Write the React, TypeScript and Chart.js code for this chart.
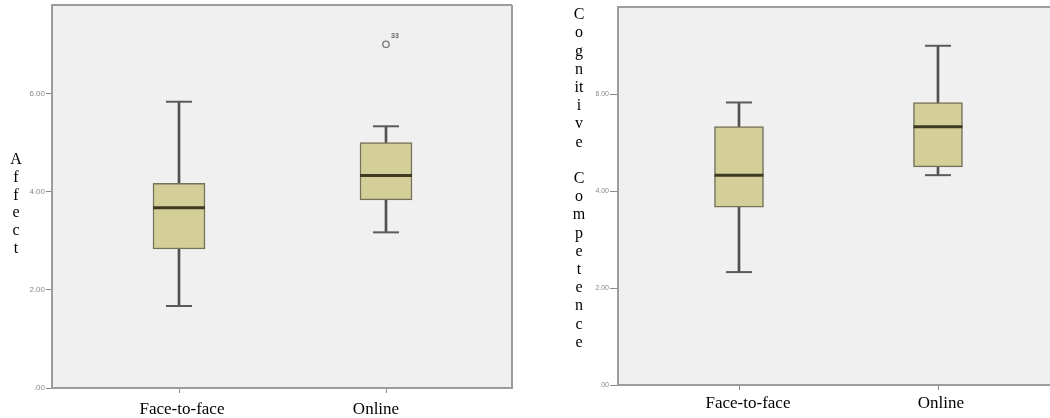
import React, { useEffect, useRef } from "react";
import { Chart, registerables } from "chart.js";

Chart.register(...registerables);

// ---------- data ----------
const categories = ["Face-to-face", "Online"];
const yTicks = [0, 2, 4, 6];

const affectMin = [1.67, 3.17];
const affectQ1 = [2.83, 3.83];
const affectMedian = [3.67, 4.33];
const affectQ3 = [4.17, 5.0];
const affectMax = [5.83, 5.33];
const affectOutlierValues = [null, 7.0];
const affectOutlierLabels = ["", "33"];
const affectTitle = ["A", "f", "f", "e", "c", "t"];

const cogMin = [2.33, 4.33];
const cogQ1 = [3.67, 4.5];
const cogMedian = [4.33, 5.33];
const cogQ3 = [5.33, 5.83];
const cogMax = [5.83, 7.0];
const cogOutlierValues = [null, null];
const cogOutlierLabels = ["", ""];
const cogTitle = ["C", "o", "g", "n", "it", "i", "v", "e", "", "C", "o", "m", "p", "e", "t", "e", "n", "c", "e"];

// ---------- helpers ----------
type PanelCfg = {
  min: number[];
  q1: number[];
  median: number[];
  q3: number[];
  max: number[];
  outliers: (number | null)[];
  outlierLabels: string[];
  title: string[];
  xMin: number;
  xMax: number;
  pxPerUnit: number;
  labelShiftPx: number[];
  boxWidth: number;
  padding: { left: number; right: number; top: number; bottom: number };
  yWidth: number;
  xHeight: number;
  yTickLen: number;
  yFontSize: number;
  xLabelPad: number;
  titleX: number;
  titleY0: number;
  titleStep: number;
  drawRight: boolean;
};

const framePlugin = {
  id: "frame",
  beforeDraw(chart: any) {
    const { ctx, chartArea: a } = chart;
    ctx.save();
    ctx.fillStyle = "#f0f0f0";
    ctx.fillRect(a.left, a.top, a.right - a.left, a.bottom - a.top);
    ctx.restore();
  },
  afterDraw(chart: any, _args: any, opts: any) {
    const { ctx, chartArea: a } = chart;
    ctx.save();
    ctx.strokeStyle = "#9c9c9c";
    ctx.lineWidth = 2;
    ctx.beginPath();
    ctx.moveTo(a.left - 1, a.top);
    ctx.lineTo(a.right, a.top);
    if (opts.drawRight) {
      ctx.moveTo(a.right, a.top);
      ctx.lineTo(a.right, a.bottom + 1);
    }
    ctx.stroke();

    // category tick marks on the x axis
    const xs = chart.scales.x;
    ctx.strokeStyle = "#8a8a8a";
    ctx.lineWidth = 1;
    ctx.beginPath();
    categories.forEach((_, i) => {
      const px = Math.round(xs.getPixelForValue(i + 1)) + 0.5;
      ctx.moveTo(px, a.bottom + 1);
      ctx.lineTo(px, a.bottom + 5);
    });
    ctx.stroke();

    // stacked vertical axis title
    ctx.fillStyle = "#000";
    ctx.font = "16px 'Liberation Serif', 'Times New Roman', serif";
    ctx.textAlign = "center";
    ctx.textBaseline = "middle";
    (opts.title as string[]).forEach((t, i) => {
      if (t) ctx.fillText(t, opts.titleX, opts.titleY0 + i * opts.titleStep);
    });

    // outlier case labels
    const ds = chart.data.datasets[opts.outlierIndex];
    const meta = chart.getDatasetMeta(opts.outlierIndex);
    ctx.fillStyle = "#666";
    ctx.font = "bold 7px 'Liberation Sans', Arial, sans-serif";
    ctx.textAlign = "left";
    ctx.textBaseline = "middle";
    meta.data.forEach((el: any, i: number) => {
      const raw = ds.data[i];
      const label = raw && raw.label;
      if (label && el && Number.isFinite(el.x) && Number.isFinite(el.y)) {
        ctx.fillText(label, el.x + 5, el.y - 8);
      }
    });
    ctx.restore();
  },
};

function buildConfig(p: PanelCfg): any {
  const xs = categories.map((_, i) => i + 1);
  const stems = xs.map((x, i) => ({ x, y: [p.min[i], p.max[i]] }));
  const boxes = xs.map((x, i) => ({ x, y: [p.q1[i], p.q3[i]] }));
  const caps: any[] = [];
  xs.forEach((x, i) => {
    caps.push({ x, y: p.min[i] });
    caps.push({ x, y: p.max[i] });
  });
  const medians = xs.map((x, i) => ({ x, y: p.median[i] }));
  const outliers: any[] = [];
  xs.forEach((x, i) => {
    const v = p.outliers[i];
    if (v !== null && v !== undefined) outliers.push({ x, y: v, label: p.outlierLabels[i] });
  });
  const labelPositions = xs.map((x, i) => x + p.labelShiftPx[i] / p.pxPerUnit);

  return {
    type: "bar",
    data: {
      datasets: [
        {
          type: "bar",
          data: stems,
          backgroundColor: "#505050",
          borderWidth: 0,
          barThickness: 2,
          grouped: false,
          order: 5,
        },
        {
          type: "bar",
          data: boxes,
          backgroundColor: "#d4cf99",
          borderColor: "#75705a",
          borderWidth: 1.5,
          borderSkipped: false,
          barThickness: p.boxWidth,
          grouped: false,
          order: 4,
        },
        {
          type: "scatter",
          data: caps,
          pointStyle: "line",
          radius: 13,
          borderWidth: 2,
          borderColor: "#5a5a5a",
          order: 2,
        },
        {
          type: "scatter",
          data: medians,
          pointStyle: "line",
          radius: p.boxWidth / 2,
          borderWidth: 3,
          borderColor: "#3e3a24",
          order: 1,
        },
        {
          type: "scatter",
          data: outliers,
          pointStyle: "circle",
          radius: 3.2,
          borderWidth: 1.3,
          borderColor: "#777",
          backgroundColor: "rgba(0,0,0,0)",
          order: 0,
        },
      ],
    },
    options: {
      responsive: false,
      maintainAspectRatio: false,
      animation: false,
      events: [],
      layout: { padding: p.padding, autoPadding: false },
      plugins: {
        legend: { display: false },
        tooltip: { enabled: false },
        frame: {
          drawRight: p.drawRight,
          title: p.title,
          titleX: p.titleX,
          titleY0: p.titleY0,
          titleStep: p.titleStep,
          outlierIndex: 4,
        },
      },
      scales: {
        x: {
          type: "linear",
          offset: false,
          min: p.xMin,
          max: p.xMax,
          afterBuildTicks: (s: any) => {
            s.ticks = labelPositions.map((v) => ({ value: v }));
          },
          afterFit: (s: any) => {
            s.height = p.xHeight;
            s.paddingLeft = 0;
            s.paddingRight = 0;
          },
          ticks: {
            callback: (_v: any, i: number) => categories[i] ?? "",
            font: { family: "'Liberation Serif', 'Times New Roman', serif", size: 17 },
            color: "#000",
            padding: p.xLabelPad,
            maxRotation: 0,
            autoSkip: false,
          },
          grid: { offset: false, drawOnChartArea: false, drawTicks: false },
          border: { display: true, color: "#9c9c9c", width: 2 },
        },
        y: {
          type: "linear",
          min: 0,
          max: 7.8,
          afterBuildTicks: (s: any) => {
            s.ticks = yTicks.map((v) => ({ value: v }));
          },
          afterFit: (s: any) => {
            s.width = p.yWidth;
            s.paddingTop = 0;
            s.paddingBottom = 0;
          },
          ticks: {
            callback: (v: any) => (Number(v) === 0 ? ".00" : Number(v).toFixed(2)),
            font: { family: "'Liberation Sans', Arial, sans-serif", size: p.yFontSize },
            color: "#888",
            padding: 1,
          },
          grid: { drawOnChartArea: false, drawTicks: true, tickLength: p.yTickLen, color: "#8a8a8a", lineWidth: 1 },
          border: { display: true, color: "#9c9c9c", width: 2 },
        },
      },
    },
    plugins: [framePlugin],
  };
}

const leftPanel: PanelCfg = {
  min: affectMin,
  q1: affectQ1,
  median: affectMedian,
  q3: affectQ3,
  max: affectMax,
  outliers: affectOutlierValues,
  outlierLabels: affectOutlierLabels,
  title: affectTitle,
  xMin: 0.3865,
  xMax: 2.6087,
  pxPerUnit: 207,
  labelShiftPx: [3, -10],
  boxWidth: 52,
  padding: { left: 26, right: 28, top: 5, bottom: 0 },
  yWidth: 26,
  xHeight: 30,
  yTickLen: 6,
  yFontSize: 8,
  xLabelPad: 11,
  titleX: 16,
  titleY0: 160,
  titleStep: 17.7,
  drawRight: true,
};

const rightPanel: PanelCfg = {
  min: cogMin,
  q1: cogQ1,
  median: cogMedian,
  q3: cogQ3,
  max: cogMax,
  outliers: cogOutlierValues,
  outlierLabels: cogOutlierLabels,
  title: cogTitle,
  xMin: 0.392,
  xMax: 2.563,
  pxPerUnit: 199,
  labelShiftPx: [9, 3],
  boxWidth: 49,
  padding: { left: 52, right: 0, top: 7, bottom: 0 },
  yWidth: 26,
  xHeight: 33,
  yTickLen: 8,
  yFontSize: 7,
  xLabelPad: 8,
  titleX: 39,
  titleY0: 15,
  titleStep: 18.2,
  drawRight: false,
};

export default function App() {
  const leftRef = useRef<HTMLCanvasElement | null>(null);
  const rightRef = useRef<HTMLCanvasElement | null>(null);

  useEffect(() => {
    const charts: Chart[] = [];
    if (leftRef.current) charts.push(new Chart(leftRef.current, buildConfig(leftPanel)));
    if (rightRef.current) charts.push(new Chart(rightRef.current, buildConfig(rightPanel)));
    return () => charts.forEach((c) => c.destroy());
  }, []);

  return (
    <div style={{ position: "fixed", left: 0, top: 0, width: 1050, height: 418, background: "#fff", overflow: "hidden" }}>
      <canvas ref={leftRef} width={540} height={418} style={{ position: "absolute", left: 0, top: 0 }} />
      <canvas ref={rightRef} width={510} height={418} style={{ position: "absolute", left: 540, top: 0 }} />
    </div>
  );
}
